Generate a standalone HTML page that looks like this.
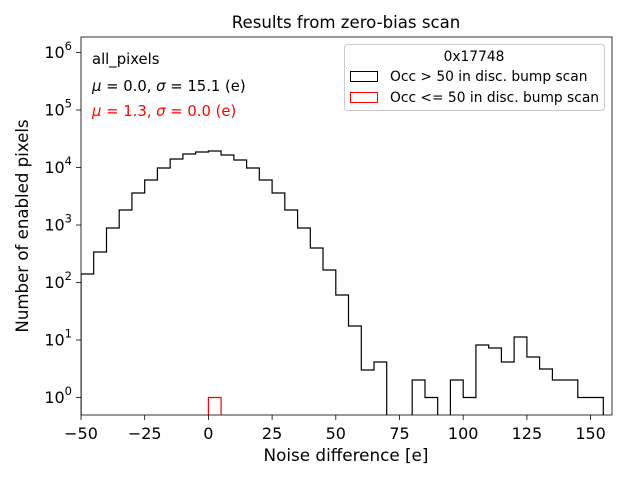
<!DOCTYPE html>
<html><head><style>body{margin:0;background:#fff}svg{display:block}text{font-family:"DejaVu Sans","Liberation Sans",sans-serif}</style></head><body>
<svg width="640" height="480" viewBox="0 0 640 480" xmlns="http://www.w3.org/2000/svg">
<rect width="640" height="480" fill="#fff"/>
<defs><clipPath id="c"><rect x="81" y="37" width="531" height="378"/></clipPath></defs>
<g clip-path="url(#c)" fill="none" stroke-width="1.2">
<path stroke="#000" d="M81,420 L81,274 H93.7 V252 H106.5 V228 H119.2 V210 H131.9 V193 H144.7 V180 H157.4 V168 H170.2 V159 H182.9 V154 H195.6 V152 H208.4 V151 H221.1 V155 H233.9 V160 H246.6 V168 H259.3 V180 H272.1 V193 H284.8 V210 H297.6 V228 H310.3 V248 H323 V270 H335.8 V295 H348.5 V326 H361.3 V370 H374 V362 H386.7 V420 H412.2 V380 H425 V397.5 H437.7 V420 H450.4 V380 H463.2 V397.5 H475.9 V345 H488.7 V348 H501.4 V362 H514.1 V337 H526.9 V357 H539.6 V369 H552.4 V380 H577.8 V397.5 H603.3 V420"/>
<path stroke="#f00" d="M208.4,420 V397.5 H221.1 V420"/>
</g>
<rect x="81" y="37" width="531" height="378" fill="none" stroke="#000" stroke-width="0.8"/>
<g stroke="#000" stroke-width="0.8">
<line x1="81" y1="415" x2="81" y2="420"/><line x1="144.7" y1="415" x2="144.7" y2="420"/><line x1="208.4" y1="415" x2="208.4" y2="420"/><line x1="272.1" y1="415" x2="272.1" y2="420"/><line x1="335.8" y1="415" x2="335.8" y2="420"/><line x1="399.5" y1="415" x2="399.5" y2="420"/><line x1="463.2" y1="415" x2="463.2" y2="420"/><line x1="526.9" y1="415" x2="526.9" y2="420"/><line x1="590.6" y1="415" x2="590.6" y2="420"/>
<line x1="76" y1="397.5" x2="81" y2="397.5"/><line x1="76" y1="340" x2="81" y2="340"/><line x1="76" y1="282.5" x2="81" y2="282.5"/><line x1="76" y1="225" x2="81" y2="225"/><line x1="76" y1="167.5" x2="81" y2="167.5"/><line x1="76" y1="110" x2="81" y2="110"/><line x1="76" y1="52.5" x2="81" y2="52.5"/>
</g>
<g stroke="#000" stroke-width="0.6" id="minor"></g>
<script>
var g=document.getElementById('minor'),s='';
for(var d=-1;d<7;d++)for(var k=2;k<10;k++){var y=397.5-57.5*(d+Math.log10(k));if(y>37&&y<415)s+='<line x1="78.2" y1="'+y+'" x2="81" y2="'+y+'"/>';}
g.innerHTML=s;
</script>
<g font-size="16" text-anchor="middle" fill="#000">
<text x="81" y="439">−50</text><text x="144.7" y="439">−25</text><text x="208.4" y="439">0</text><text x="272.1" y="439">25</text><text x="335.8" y="439">50</text><text x="399.5" y="439">75</text><text x="463.2" y="439">100</text><text x="526.9" y="439">125</text><text x="590.6" y="439">150</text>
</g>
<g font-size="16" text-anchor="end" fill="#000">
<text x="72" y="403">10<tspan font-size="11.5" dy="-8">0</tspan></text>
<text x="72" y="345.5">10<tspan font-size="11.5" dy="-8">1</tspan></text>
<text x="72" y="288">10<tspan font-size="11.5" dy="-8">2</tspan></text>
<text x="72" y="230.5">10<tspan font-size="11.5" dy="-8">3</tspan></text>
<text x="72" y="173">10<tspan font-size="11.5" dy="-8">4</tspan></text>
<text x="72" y="115.5">10<tspan font-size="11.5" dy="-8">5</tspan></text>
<text x="72" y="58">10<tspan font-size="11.5" dy="-8">6</tspan></text>
</g>
<text x="346" y="28" font-size="16.6" text-anchor="middle">Results from zero-bias scan</text>
<text x="346" y="461" font-size="16.8" text-anchor="middle">Noise difference [e]</text>
<text transform="translate(28,226) rotate(-90)" font-size="16.6" text-anchor="middle">Number of enabled pixels</text>
<text x="92" y="64" font-size="14.8">all_pixels</text>
<text x="92" y="91" font-size="14.8"><tspan font-style="italic">μ</tspan> = 0.0, <tspan font-style="italic">σ</tspan> = 15.1 (e)</text>
<text x="92" y="116" font-size="14.8" fill="#f00"><tspan font-style="italic">μ</tspan> = 1.3, <tspan font-style="italic">σ</tspan> = 0.0 (e)</text>
<rect x="344.5" y="44.5" width="260" height="66" rx="3" fill="#fff" fill-opacity="0.8" stroke="#ccc"/>
<text x="474" y="61" font-size="13.8" text-anchor="middle">0x17748</text>
<rect x="350.5" y="71.5" width="27" height="10" fill="none" stroke="#000"/>
<text x="390" y="81" font-size="13.8">Occ &gt; 50 in disc. bump scan</text>
<rect x="350.5" y="92.5" width="27" height="10" fill="none" stroke="#f00"/>
<text x="390" y="102" font-size="13.8">Occ &lt;= 50 in disc. bump scan</text>
</svg>
</body></html>
